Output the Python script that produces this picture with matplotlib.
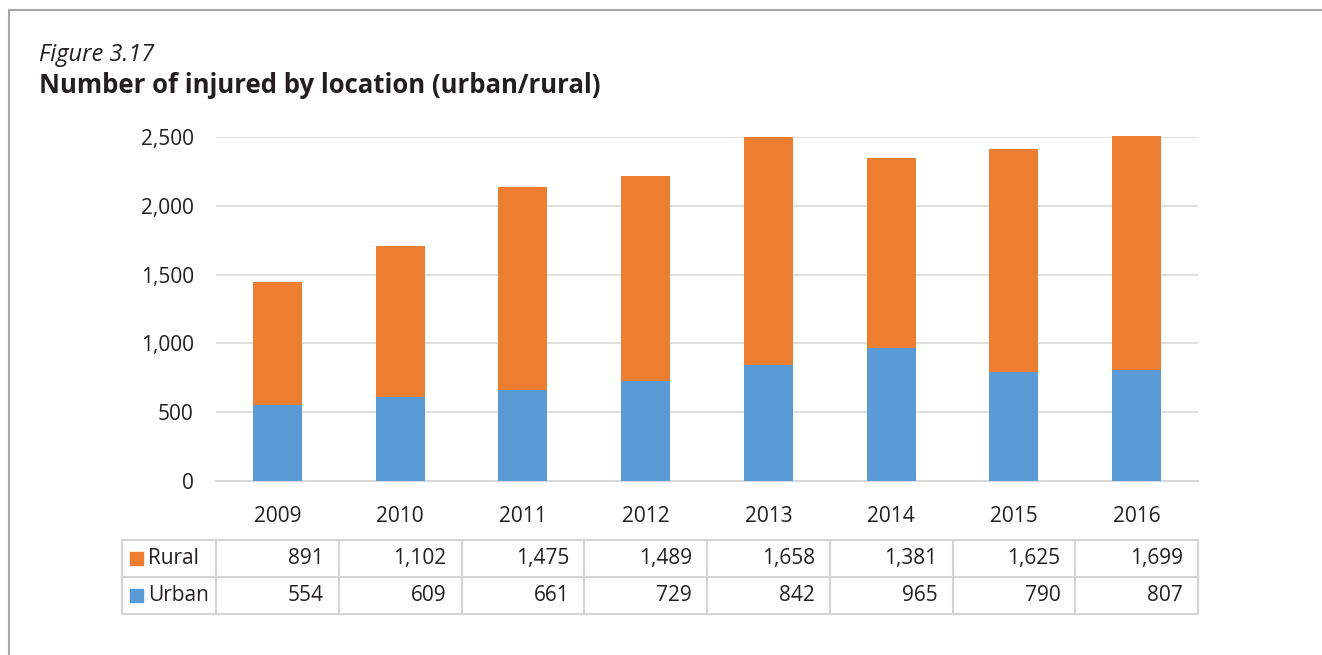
import matplotlib.pyplot as plt
import matplotlib.patches as mpatches
from matplotlib.lines import Line2D

plt.rcParams['font.family'] = ['Open Sans', 'DejaVu Sans']

years = ['2009', '2010', '2011', '2012', '2013', '2014', '2015', '2016']
urban = [554, 609, 661, 729, 842, 965, 790, 807]
rural = [891, 1102, 1475, 1489, 1658, 1381, 1625, 1699]
yticks = [0, 500, 1000, 1500, 2000, 2500]

orange = '#ED7D31'
blue = '#5B9BD5'
grid_c = '#D9D9D9'
text_c = '#231F20'

W, H = 1322, 655
fig = plt.figure(figsize=(W / 100, H / 100), dpi=100)

# frame around the figure (left and top only visible)
fig.add_artist(Line2D([9 / W, 9 / W], [0, 1 - 10 / H], color='#A6A6A6', lw=1.5))
fig.add_artist(Line2D([9 / W, 1], [1 - 10 / H, 1 - 10 / H], color='#A6A6A6', lw=1.5))

fig.text(39 / W, 1 - 61 / H, 'Figure 3.17', fontsize=17, style='italic',
         color=text_c, va='baseline')
fig.text(39 / W, 1 - 93 / H, 'Number of injured by location (urban/rural)',
         fontsize=18.5, weight='bold', color=text_c, va='baseline')

left, right = 216, 1198
top, bottom = 137, 481
ax = fig.add_axes([left / W, 1 - bottom / H, (right - left) / W, (bottom - top) / H])

x = range(len(years))
ax.bar(x, urban, width=0.4, color=blue, zorder=3, clip_on=False)
ax.bar(x, rural, width=0.4, bottom=urban, color=orange, zorder=3, clip_on=False)

ax.set_xlim(-0.5, len(years) - 0.5)
ax.set_ylim(0, 2500)
ax.set_yticks(yticks)
ax.set_yticklabels([f'{v:,}' for v in yticks], fontsize=15, color=text_c)
ax.yaxis.grid(True, color=grid_c, lw=1.2, zorder=0)
ax.tick_params(axis='y', length=0, pad=16)
ax.set_xticks(list(x))
ax.set_xticklabels(years, fontsize=15, color=text_c)
ax.tick_params(axis='x', length=0, pad=18)
for s in ['top', 'right', 'left']:
    ax.spines[s].set_visible(False)
ax.spines['bottom'].set_color(grid_c)
ax.spines['bottom'].set_linewidth(1.5)

# data table under the chart
col_w = (right - left) / len(years)
row_tops = [540, 577, 614]
tbl_left = 122
lc = '#D4D4D4'
for yy in row_tops:
    fig.add_artist(Line2D([tbl_left / W, right / W], [1 - yy / H] * 2, color=lc, lw=1.5))
xs_lines = [tbl_left] + [left + i * col_w for i in range(len(years) + 1)]
for xx in xs_lines:
    fig.add_artist(Line2D([xx / W] * 2, [1 - row_tops[0] / H, 1 - row_tops[-1] / H],
                          color=lc, lw=1.5))

rows = [('Rural', rural, orange), ('Urban', urban, blue)]
for r, (name, vals, c) in enumerate(rows):
    ymid = (row_tops[r] + row_tops[r + 1]) / 2
    fig.add_artist(mpatches.Rectangle((130 / W, 1 - (ymid + 6) / H), 13 / W, 13 / H,
                                      color=c, transform=fig.transFigure))
    fig.text(148 / W, 1 - ymid / H, name, fontsize=15, color=text_c, va='center')
    for i, v in enumerate(vals):
        fig.text((left + (i + 1) * col_w - 15) / W, 1 - ymid / H, f'{v:,}',
                 fontsize=15, color=text_c, va='center', ha='right')

fig.savefig('out.png', dpi=100)
